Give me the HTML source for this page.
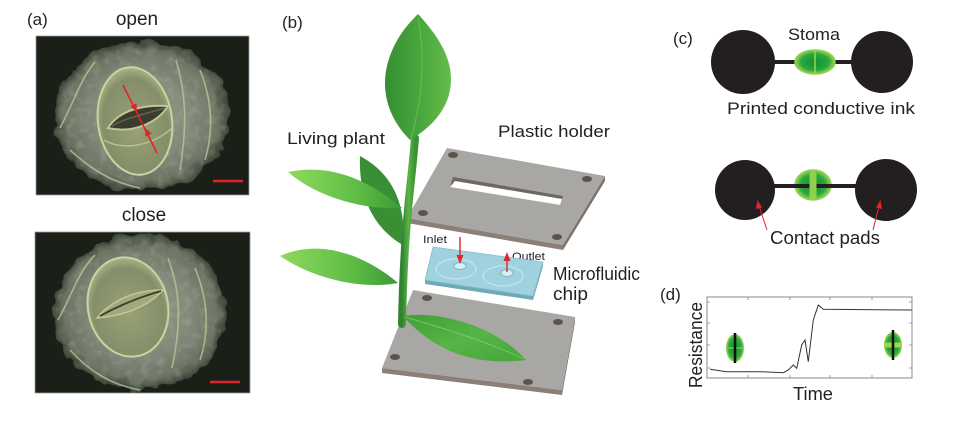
<!DOCTYPE html>
<html><head><meta charset="utf-8"><style>
html,body{margin:0;padding:0;background:#fff;width:954px;height:422px;overflow:hidden}
svg{display:block}
text{font-family:"Liberation Sans",Arial,sans-serif;fill:#231f20}
</style></head><body>
<svg width="954" height="422" viewBox="0 0 954 422" xmlns="http://www.w3.org/2000/svg">
<defs>
 <filter id="rough" x="-15%" y="-15%" width="130%" height="130%">
  <feTurbulence type="fractalNoise" baseFrequency="0.07" numOctaves="2" seed="4" result="n"/>
  <feDisplacementMap in="SourceGraphic" in2="n" scale="14" xChannelSelector="R" yChannelSelector="G"/>
 </filter>
 <filter id="tex" x="0" y="0" width="100%" height="100%">
  <feTurbulence type="fractalNoise" baseFrequency="0.12" numOctaves="2" seed="7" result="n"/>
  <feColorMatrix in="n" type="matrix" values="0 0 0 0 0.82  0 0 0 0 0.88  0 0 0 0 0.72  0 0 0 1.4 -0.7" result="a"/>
  <feComposite in="a" in2="SourceGraphic" operator="in"/>
 </filter>
 <radialGradient id="blob" cx="50%" cy="50%" r="50%">
  <stop offset="0" stop-color="#959b84"/>
  <stop offset="0.55" stop-color="#858b7c"/>
  <stop offset="0.88" stop-color="#6c7464"/>
  <stop offset="1" stop-color="#3f473a"/>
 </radialGradient>
 <radialGradient id="guard" cx="50%" cy="55%" r="55%">
  <stop offset="0" stop-color="#9aa276"/>
  <stop offset="0.8" stop-color="#848e69"/>
  <stop offset="1" stop-color="#a9b486"/>
 </radialGradient>
 <linearGradient id="leafTop" x1="0" y1="0" x2="1" y2="0">
  <stop offset="0" stop-color="#358f33"/>
  <stop offset="0.55" stop-color="#4aa73e"/>
  <stop offset="1" stop-color="#67bd4a"/>
 </linearGradient>
 <linearGradient id="leafL" x1="0" y1="0" x2="1" y2="0">
  <stop offset="0" stop-color="#8fd95e"/>
  <stop offset="0.6" stop-color="#5fbd45"/>
  <stop offset="1" stop-color="#3b9a36"/>
 </linearGradient>
 <linearGradient id="leafB" x1="0" y1="0" x2="1" y2="1">
  <stop offset="0" stop-color="#3f9e39"/>
  <stop offset="0.5" stop-color="#56b546"/>
  <stop offset="1" stop-color="#44a63c"/>
 </linearGradient>
 <linearGradient id="stem" x1="0" y1="0" x2="1" y2="0">
  <stop offset="0" stop-color="#2f8430"/>
  <stop offset="0.5" stop-color="#5cb446"/>
  <stop offset="1" stop-color="#3a9236"/>
 </linearGradient>
 <radialGradient id="sto" cx="50%" cy="50%" r="50%">
  <stop offset="0" stop-color="#138f35"/>
  <stop offset="0.7" stop-color="#2aa83f"/>
  <stop offset="1" stop-color="#9ad64f"/>
 </radialGradient>
 <clipPath id="img1"><rect x="36" y="36" width="213" height="159"/></clipPath>
 <clipPath id="img2"><rect x="35" y="232" width="215" height="161"/></clipPath>
</defs>

<!-- ===== Panel (a) ===== -->
<text x="27" y="25" font-size="17">(a)</text>
<text x="137" y="25" font-size="19" text-anchor="middle">open</text>
<text x="144" y="221" font-size="19" text-anchor="middle">close</text>

<!-- top micrograph -->
<g clip-path="url(#img1)">
 <rect x="36" y="36" width="213" height="159" fill="#1a1f18"/>
 <g filter="url(#rough)">
  <ellipse cx="142" cy="116" rx="88" ry="75" fill="url(#blob)"/>
 </g>
 <ellipse cx="142" cy="116" rx="85" ry="72" fill="#dfe8c0" filter="url(#tex)" opacity="0.3"/>
 <g fill="none" stroke="#bfc99a" stroke-width="1.6" opacity="0.75">
  <path d="M60,128 C75,100 80,80 95,62"/>
  <path d="M176,60 C185,90 188,120 180,170"/>
  <path d="M200,70 C212,100 214,130 205,160"/>
  <path d="M70,150 C90,168 110,182 140,188"/>
 </g>
 <ellipse cx="135" cy="121" rx="37" ry="54" transform="rotate(-8 135 121)" fill="url(#guard)" stroke="#c9d4a0" stroke-width="2"/>
 <path d="M108,128 C118,112 140,104 168,106 C158,122 134,134 108,128 Z" fill="#3a3c2e" stroke="#bfc894" stroke-width="2"/>
 <path d="M112,126 C125,118 145,114 165,108" fill="none" stroke="#66654a" stroke-width="1.5"/>
 <path d="M104,140 C120,150 150,148 172,128" fill="none" stroke="#b8c28c" stroke-width="1.5"/>
 <!-- red arrow -->
 <line x1="123" y1="85" x2="157" y2="153" stroke="#e2232a" stroke-width="1.6"/>
 <polygon points="137,112 136.5,103.2 130.3,106.4" fill="#e2232a"/>
 <polygon points="145,128 151.7,133.6 145.5,136.8" fill="#e2232a"/>
 <line x1="213" y1="181" x2="243" y2="181" stroke="#e2232a" stroke-width="2.5"/>
</g>
<rect x="36" y="36" width="213" height="159" fill="none" stroke="#9a9a9a" stroke-width="0.8"/>

<!-- bottom micrograph -->
<g clip-path="url(#img2)">
 <rect x="35" y="232" width="215" height="161" fill="#1a1f18"/>
 <g filter="url(#rough)">
  <ellipse cx="140" cy="312" rx="87" ry="77" fill="url(#blob)"/>
 </g>
 <ellipse cx="140" cy="312" rx="84" ry="74" fill="#dfe8c0" filter="url(#tex)" opacity="0.3"/>
 <g fill="none" stroke="#bfc99a" stroke-width="1.6" opacity="0.75">
  <path d="M58,320 C72,295 78,272 95,255"/>
  <path d="M168,258 C180,290 182,320 172,368"/>
  <path d="M195,268 C208,300 210,330 200,360"/>
  <path d="M70,350 C90,372 112,385 140,390"/>
 </g>
 <ellipse cx="128" cy="307" rx="40" ry="50" transform="rotate(-12 128 307)" fill="url(#guard)" stroke="#c9d4a0" stroke-width="2"/>
 <path d="M97,318 C112,300 135,290 163,290 C150,305 125,316 97,318 Z" fill="#a1a97c" stroke="#bfc894" stroke-width="1.5"/>
 <path d="M100,316 C120,305 140,297 161,291" fill="none" stroke="#3d3f30" stroke-width="1.8"/>
 <line x1="210" y1="382" x2="240" y2="382" stroke="#e2232a" stroke-width="2.5"/>
</g>
<rect x="35" y="232" width="215" height="161" fill="none" stroke="#9a9a9a" stroke-width="0.8"/>

<!-- ===== Panel (b) ===== -->
<text x="282" y="28" font-size="17">(b)</text>
<text x="287" y="144" font-size="17" textLength="98" lengthAdjust="spacingAndGlyphs">Living plant</text>
<text x="498" y="137" font-size="17" textLength="112" lengthAdjust="spacingAndGlyphs">Plastic holder</text>
<text x="553" y="280" font-size="18" textLength="87" lengthAdjust="spacingAndGlyphs">Microfluidic</text>
<text x="553" y="300" font-size="18" textLength="35" lengthAdjust="spacingAndGlyphs">chip</text>
<text x="423" y="243" font-size="11" textLength="24" lengthAdjust="spacingAndGlyphs">Inlet</text>
<text x="512" y="260" font-size="11" textLength="33" lengthAdjust="spacingAndGlyphs">Outlet</text>

<!-- bottom plate -->
<polygon points="382,368 562,390 562,395 382,373" fill="#8b7f77"/>
<polygon points="562,390 575,317 575,322 562,395" fill="#7e736c"/>
<polygon points="413,290 575,317 562,390 382,368" fill="#a9a7a3"/>
<ellipse cx="427" cy="298" rx="5" ry="3" fill="#5b544e"/>
<ellipse cx="558" cy="322" rx="5" ry="3" fill="#5b544e"/>
<ellipse cx="395" cy="357" rx="5" ry="3" fill="#5b544e"/>
<ellipse cx="528" cy="382" rx="5" ry="3" fill="#5b544e"/>

<!-- chip -->
<polygon points="425,280 533,296 533,300 425,284" fill="#6fa8b6"/>
<polygon points="533,296 543,262 543,266 533,300" fill="#6a9fad"/>
<polygon points="433,247 543,262 533,296 425,280" fill="#9fd2de" stroke="#86bfcc" stroke-width="0.8"/>
<ellipse cx="456" cy="269" rx="20" ry="10" fill="none" stroke="#c3e4ec" stroke-width="1.2"/>
<ellipse cx="503" cy="276" rx="20" ry="10" fill="none" stroke="#c3e4ec" stroke-width="1.2"/>
<ellipse cx="460" cy="266" rx="6" ry="3.5" fill="#d8eff4" stroke="#7fb4c1" stroke-width="1"/>
<ellipse cx="507" cy="273" rx="6" ry="3.5" fill="#d8eff4" stroke="#7fb4c1" stroke-width="1"/>
<line x1="460" y1="237" x2="460" y2="256" stroke="#e2232a" stroke-width="1.4"/>
<polygon points="460,264 456.5,255 463.5,255" fill="#e2232a"/>
<line x1="507" y1="272" x2="507" y2="260" stroke="#e2232a" stroke-width="1.4"/>
<polygon points="507,252 503.5,261 510.5,261" fill="#e2232a"/>

<!-- top plate -->
<polygon points="407,218 563,245 563,250 407,223" fill="#8b7f77"/>
<polygon points="563,245 605,176 605,181 563,250" fill="#7e736c"/>
<polygon points="447,148 605,176 563,245 407,218" fill="#a9a7a3"/>
<polygon points="453,177 563,196 560,205 450,187" fill="#6e6862"/>
<polygon points="455,181 562,199 560,205 450,187" fill="#ffffff"/>
<ellipse cx="453" cy="155" rx="5" ry="3" fill="#5b544e"/>
<ellipse cx="587" cy="179" rx="5" ry="3" fill="#5b544e"/>
<ellipse cx="423" cy="213" rx="5" ry="3" fill="#5b544e"/>
<ellipse cx="557" cy="237" rx="5" ry="3" fill="#5b544e"/>

<!-- plant -->
<path d="M403,245 C380,232 358,205 360,156 C386,170 407,196 403,245 Z" fill="#3a8f34"/>
<path d="M415,138 C412,180 404,220 402,324" fill="none" stroke="url(#stem)" stroke-width="8" stroke-linecap="round"/>
<path d="M410,140 C388,118 380,90 388,62 C395,38 408,24 418,14 C440,38 455,62 450,90 C446,112 430,128 410,140 Z" fill="url(#leafTop)"/>
<path d="M411,138 C422,100 426,60 418,18" fill="none" stroke="#7fc862" stroke-width="1" opacity="0.6"/>
<path d="M402,208 C375,185 335,162 288,172 C318,198 365,210 402,208 Z" fill="url(#leafL)"/>
<path d="M398,283 C365,255 320,238 280,256 C312,278 360,290 398,283 Z" fill="url(#leafL)"/>
<path d="M403,316 C445,310 500,330 526,360 C485,365 440,358 403,316 Z" fill="url(#leafB)"/>
<path d="M405,317 C450,330 495,345 524,359" fill="none" stroke="#8fd06a" stroke-width="1" opacity="0.7"/>

<!-- ===== Panel (c) ===== -->
<text x="673" y="44" font-size="17">(c)</text>
<text x="788" y="40" font-size="17" textLength="52" lengthAdjust="spacingAndGlyphs">Stoma</text>
<line x1="770" y1="62" x2="858" y2="62" stroke="#231f20" stroke-width="4"/>
<circle cx="743" cy="62" r="32" fill="#231f20"/>
<circle cx="882" cy="62" r="31" fill="#231f20"/>
<ellipse cx="815" cy="62" rx="20" ry="12" fill="url(#sto)" stroke="#8fd14f" stroke-width="1.5"/>
<line x1="815" y1="51" x2="815" y2="73" stroke="#9ad64f" stroke-width="1.5"/>
<text x="727" y="114" font-size="17" textLength="188" lengthAdjust="spacingAndGlyphs">Printed conductive ink</text>

<ellipse cx="813" cy="185" rx="18" ry="15" fill="url(#sto)" stroke="#8fd14f" stroke-width="1.5"/>
<line x1="772" y1="186" x2="856" y2="186" stroke="#231f20" stroke-width="4"/>
<rect x="809.5" y="171" width="7" height="29" rx="3.5" fill="#8fd14f"/>
<circle cx="745" cy="190" r="30" fill="#231f20"/>
<circle cx="886" cy="190" r="31" fill="#231f20"/>
<line x1="767" y1="230" x2="759" y2="206" stroke="#e2232a" stroke-width="1"/>
<polygon points="757.5,200 756,209 762,207.5" fill="#e2232a"/>
<line x1="873" y1="230" x2="879" y2="206" stroke="#e2232a" stroke-width="1"/>
<polygon points="880.5,200 876,207.5 882,209" fill="#e2232a"/>
<text x="770" y="244" font-size="18" textLength="110" lengthAdjust="spacingAndGlyphs">Contact pads</text>

<!-- ===== Panel (d) ===== -->
<text x="660" y="300" font-size="17">(d)</text>
<rect x="707" y="297" width="205" height="81" fill="none" stroke="#8a8a8a" stroke-width="1"/>
<g stroke="#8a8a8a" stroke-width="0.8">
 <line x1="707" y1="302" x2="710" y2="302"/><line x1="707" y1="323" x2="710" y2="323"/><line x1="707" y1="345" x2="710" y2="345"/><line x1="707" y1="368" x2="710" y2="368"/>
 <line x1="912" y1="302" x2="909" y2="302"/><line x1="912" y1="323" x2="909" y2="323"/><line x1="912" y1="345" x2="909" y2="345"/><line x1="912" y1="368" x2="909" y2="368"/>
 <line x1="748" y1="297" x2="748" y2="300"/><line x1="790" y1="297" x2="790" y2="300"/><line x1="830" y1="297" x2="830" y2="300"/><line x1="872" y1="297" x2="872" y2="300"/>
 <line x1="748" y1="378" x2="748" y2="375"/><line x1="790" y1="378" x2="790" y2="375"/><line x1="830" y1="378" x2="830" y2="375"/><line x1="872" y1="378" x2="872" y2="375"/>
</g>
<polyline points="710,369.3 726.7,371.7 760,371.7 783.3,372.7 788.3,370 793.3,365 796.7,368.3 801.7,345 805,340 808.3,361.7 813.3,320 818.3,305 823.3,309.3 911.7,310" fill="none" stroke="#333" stroke-width="1"/>
<ellipse cx="735" cy="348" rx="9" ry="14" fill="url(#sto)"/>
<line x1="727" y1="348" x2="743" y2="348" stroke="#9ad64f" stroke-width="1"/>
<line x1="735" y1="333" x2="735" y2="363" stroke="#111" stroke-width="2.5"/>
<ellipse cx="893" cy="345" rx="9" ry="13" fill="url(#sto)"/>
<rect x="884" y="342.5" width="18" height="5" rx="2.5" fill="#9ad64f"/>
<line x1="893" y1="330" x2="893" y2="360" stroke="#111" stroke-width="2.5"/>
<text transform="translate(702 388) rotate(-90)" font-size="18" textLength="86" lengthAdjust="spacingAndGlyphs">Resistance</text>
<text x="793" y="400" font-size="18" textLength="40" lengthAdjust="spacingAndGlyphs">Time</text>
</svg>
</body></html>
